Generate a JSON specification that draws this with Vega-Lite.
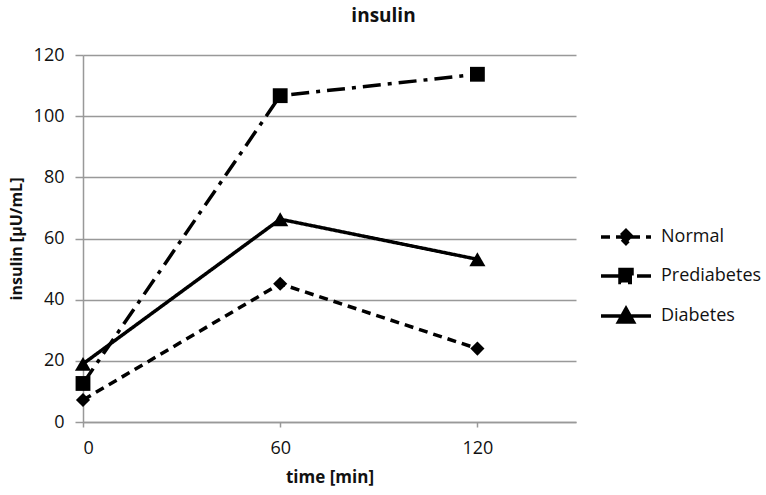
{
  "$schema": "https://vega.github.io/schema/vega-lite/v6.json",
  "autosize": "none",
  "width": 493,
  "height": 367,
  "padding": {"left": 83, "top": 55, "right": 190, "bottom": 73},
  "background": "white",
  "config": {
    "font": "Open Sans",
    "view": {"stroke": null},
    "axis": {"labelFont": "Open Sans", "titleFont": "Open Sans", "labelColor": "#111", "titleColor": "#111"}
  },
  "title": {
    "text": "insulin",
    "fontSize": 19,
    "fontWeight": "bold",
    "font": "Open Sans",
    "color": "#111",
    "anchor": "middle",
    "dx": 54,
    "offset": 20
  },
  "data": {
    "values": [
      {"time": 0, "insulin": 7.2, "group": "Normal"},
      {"time": 60, "insulin": 45.2, "group": "Normal"},
      {"time": 120, "insulin": 24.0, "group": "Normal"},
      {"time": 0, "insulin": 12.6, "group": "Prediabetes"},
      {"time": 60, "insulin": 106.7, "group": "Prediabetes"},
      {"time": 120, "insulin": 113.7, "group": "Prediabetes"},
      {"time": 0, "insulin": 19.0, "group": "Diabetes"},
      {"time": 60, "insulin": 66.3, "group": "Diabetes"},
      {"time": 120, "insulin": 53.2, "group": "Diabetes"}
    ]
  },
  "encoding": {
    "x": {
      "field": "time",
      "type": "quantitative",
      "scale": {"domain": [0, 150], "nice": false, "zero": true},
      "axis": {
        "title": "time [min]",
        "values": [0, 60, 120],
        "grid": false,
        "domainColor": "#999",
        "domainWidth": 1.5,
        "tickColor": "#999",
        "tickWidth": 1.5,
        "tickSize": 5,
        "labelFontSize": 18,
        "labelPadding": 12,
        "titleFontSize": 17,
        "titleFontWeight": "bold",
        "titlePadding": 12
      }
    },
    "y": {
      "field": "insulin",
      "type": "quantitative",
      "scale": {"domain": [0, 120], "nice": false},
      "axis": {
        "title": "insulin [μU/mL]",
        "values": [0, 20, 40, 60, 80, 100, 120],
        "grid": true,
        "gridColor": "#999",
        "gridWidth": 1.5,
        "domainColor": "#999",
        "domainWidth": 1.5,
        "tickColor": "#999",
        "tickWidth": 1.5,
        "tickSize": 8,
        "labelFontSize": 18,
        "labelPadding": 11,
        "titleFontSize": 16,
        "titleFontWeight": "bold",
        "titlePadding": 9
      }
    }
  },
  "layer": [
    {
      "mark": {"type": "line", "strokeWidth": 3.5, "color": "black"},
      "encoding": {
        "detail": {"field": "group"},
        "strokeDash": {
          "field": "group",
          "type": "nominal",
          "scale": {
            "domain": ["Normal", "Prediabetes", "Diabetes"],
            "range": [[9, 6], [18, 7, 4, 7], [1, 0]]
          },
          "legend": {
            "title": null,
            "orient": "none",
            "legendX": 514,
            "legendY": 173,
            "symbolSize": 100,
            "symbolStrokeWidth": 3.5,
            "symbolStrokeColor": "black",
            "symbolFillColor": "black",
            "symbolOffset": 20,
            "labelFontSize": 18,
            "labelFont": "Open Sans",
            "labelColor": "#111",
            "rowPadding": 11,
            "labelOffset": 26,
            "encode": {
              "symbols": {
                "update": {
                  "shape": {"signal": "datum.value === 'Normal' ? 'M-5,0L5,0M0,-1.3L1.3,0L0,1.3L-1.3,0Z' : datum.value === 'Prediabetes' ? 'M-5,0L5,0M-1.2,-1.3L1.2,-1.3L1.2,1.3L-1.2,1.3Z' : 'M-5,0L5,0M0,-1.5L1.5,1.2L-1.5,1.2Z'"},
                  "fill": {"value": "black"},
                  "fillOpacity": {"value": 1},
                  "stroke": {"value": "black"},
                  "strokeWidth": {"value": 3.5},
                  "strokeOpacity": {"value": 1},
                  "opacity": {"value": 1}
                }
              }
            }
          }
        }
      }
    },
    {
      "transform": [{"filter": "datum.group === 'Normal'"}],
      "mark": {"type": "point", "filled": true, "color": "black", "opacity": 1, "shape": "diamond", "size": 200}
    },
    {
      "transform": [{"filter": "datum.group === 'Prediabetes'"}],
      "mark": {"type": "point", "filled": true, "color": "black", "opacity": 1, "shape": "square", "size": 220}
    },
    {
      "transform": [{"filter": "datum.group === 'Diabetes'"}],
      "mark": {"type": "point", "filled": true, "color": "black", "opacity": 1, "shape": "triangle-up", "size": 260}
    }
  ]
}
